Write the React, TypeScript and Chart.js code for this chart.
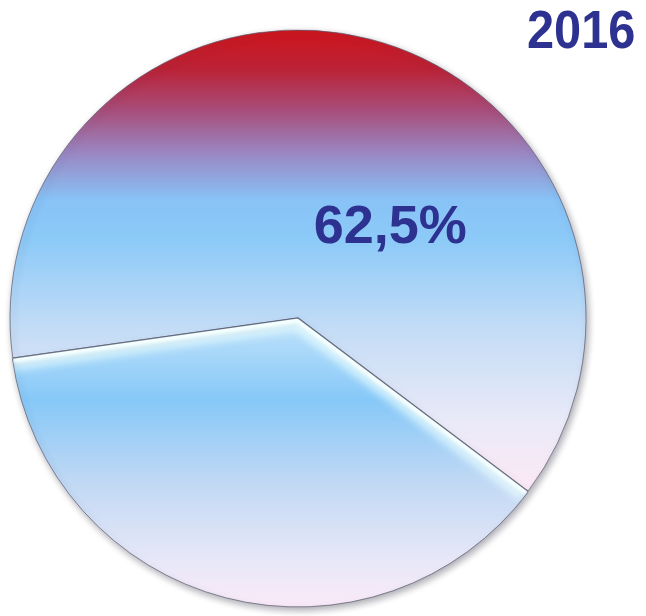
import React, { useEffect, useRef } from 'react';
import { Chart, registerables } from 'chart.js';

Chart.register(...registerables);

const categories = ['Остальные', 'Доля'];
const values = [37.5, 62.5];
const titleText = '2016';
const labelIndex = 1;

const upperStops: [number, string][] = [
  [0.0, '#d0141c'],
  [0.07, '#bb2236'],
  [0.14, '#a84c78'],
  [0.215, '#9a86c2'],
  [0.295, '#88c2f6'],
  [0.365, '#8ccaf8'],
  [0.52, '#c4dcf6'],
  [0.68, '#eaeaf8'],
  [0.8, '#fde8f5'],
  [1.0, '#fde8f5'],
];
const lowerStops: [number, string][] = [
  [0.0, '#bfe2fa'],
  [0.5, '#bfe2fa'],
  [0.53, '#b4ddfa'],
  [0.64, '#86c8f8'],
  [0.78, '#c0d8f4'],
  [0.92, '#e8e8f8'],
  [1.0, '#fbeaf8'],
];

export default function App() {
  const ref = useRef<HTMLCanvasElement>(null);

  useEffect(() => {
    document.body.style.margin = '0';
    const canvas = ref.current!;

    const makeGrad = (ctx: CanvasRenderingContext2D, area: any, stops: [number, string][]) => {
      const g = ctx.createLinearGradient(0, area.top, 0, area.bottom);
      stops.forEach(([o, c]) => g.addColorStop(o, c));
      return g;
    };

    const shadowPlugin = {
      id: 'shadow',
      beforeDatasetsDraw(chart: any) {
        const ctx = chart.ctx;
        ctx.save();
        ctx.shadowColor = 'rgba(40,40,60,0.4)';
        ctx.shadowBlur = 7;
        ctx.shadowOffsetX = 2;
        ctx.shadowOffsetY = 3;
      },
      afterDatasetsDraw(chart: any) {
        const ctx = chart.ctx;
        ctx.restore();
        const meta = chart.getDatasetMeta(0);
        const arc: any = meta.data[0];
        if (arc) {
          const { x, y, startAngle, endAngle, outerRadius } = arc.getProps(
            ['x', 'y', 'startAngle', 'endAngle', 'outerRadius'],
            true
          );
          ctx.save();
          ctx.beginPath();
          ctx.moveTo(x, y);
          ctx.arc(x, y, outerRadius, startAngle, endAngle);
          ctx.closePath();
          ctx.clip();
          const path = () => {
            ctx.beginPath();
            ctx.moveTo(x + Math.cos(startAngle) * outerRadius, y + Math.sin(startAngle) * outerRadius);
            ctx.lineTo(x, y);
            ctx.lineTo(x + Math.cos(endAngle) * outerRadius, y + Math.sin(endAngle) * outerRadius);
          };
          ctx.lineJoin = 'round';
          ctx.filter = 'blur(4px)';
          ctx.strokeStyle = 'rgba(235,255,255,0.75)';
          ctx.lineWidth = 24;
          path();
          ctx.stroke();
          ctx.filter = 'blur(1.5px)';
          ctx.strokeStyle = 'rgba(245,255,255,0.95)';
          ctx.lineWidth = 10;
          path();
          ctx.stroke();
          ctx.filter = 'none';
          ctx.restore();
          // dark separating line
          ctx.save();
          ctx.strokeStyle = 'rgba(70,75,95,0.75)';
          ctx.lineWidth = 1.2;
          path();
          ctx.stroke();
          ctx.restore();
        }
        // label
        const area = chart.chartArea;
        const v = values[labelIndex];
        const text = `${String(v).replace('.', ',')}%`;
        ctx.save();
        ctx.font = 'bold 54px "Liberation Sans", Arial, sans-serif';
        ctx.fillStyle = '#2d3190';
        ctx.textAlign = 'center';
        ctx.textBaseline = 'alphabetic';
        ctx.fillText(text, area.left + area.width * 0.659, area.top + area.height * 0.371);
        ctx.restore();
      },
    };

    const chart = new Chart(canvas, {
      type: 'pie',
      data: {
        labels: categories,
        datasets: [
          {
            data: values,
            backgroundColor: (c: any) => {
              const ch = c.chart;
              const area = ch.chartArea;
              if (!area) return '#88c8f8';
              return makeGrad(ch.ctx, area, c.dataIndex === 0 ? lowerStops : upperStops);
            },
            borderColor: 'rgba(90,90,110,0.7)',
            borderWidth: 1,
            offset: [3, 0],
          },
        ],
      },
      options: {
        responsive: false,
        animation: false,
        rotation: 127,
        layout: { padding: { left: 8, right: 58, top: 28, bottom: 8 } },
        plugins: {
          legend: { display: false },
          tooltip: { enabled: false },
        },
      } as any,
      plugins: [shadowPlugin],
    });
    return () => chart.destroy();
  }, []);

  return (
    <div style={{ position: 'relative', width: 646, height: 616, background: '#ffffff' }}>
      <canvas ref={ref} width={646} height={616} style={{ position: 'absolute', left: 0, top: 0 }} />
      <div
        style={{
          position: 'absolute',
          left: 527,
          top: 3,
          fontFamily: '"Liberation Sans", Arial, sans-serif',
          fontWeight: 'bold',
          fontSize: 53,
          lineHeight: 1,
          color: '#2d3190',
          transform: 'scaleX(0.92)',
          transformOrigin: 'left top',
          whiteSpace: 'nowrap',
        }}
      >
        {titleText}
      </div>
    </div>
  );
}
